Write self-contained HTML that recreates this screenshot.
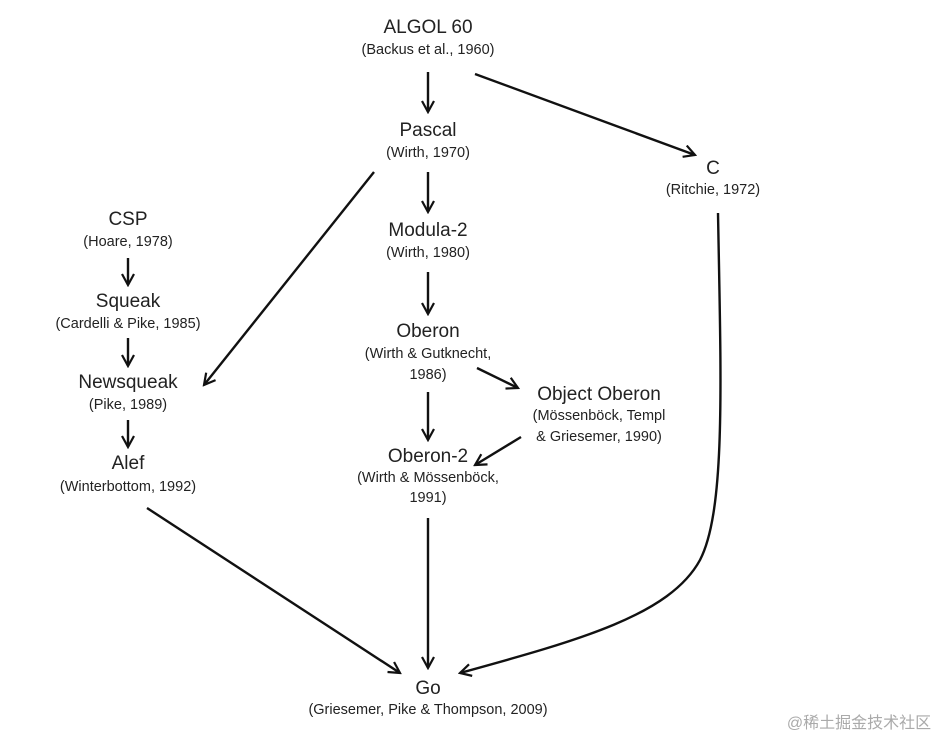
<!DOCTYPE html>
<html><head><meta charset="utf-8"><style>
html,body{margin:0;padding:0;background:#fff;}
svg{display:block;}
text{font-family:"Liberation Sans","Noto Sans CJK SC",sans-serif;fill:#222;text-anchor:middle;}
.t{font-size:19px;}
.s{font-size:14.5px;}
line,path{stroke:#111;stroke-width:2.4;fill:none;}
</style></head><body>
<svg width="946" height="741" viewBox="0 0 946 741">
<defs>
<marker id="a" viewBox="0 0 14 14" refX="12" refY="7" markerWidth="14" markerHeight="14" markerUnits="userSpaceOnUse" orient="auto">
<path d="M1,1 L12,7 L1,13" style="stroke:#111;stroke-width:2.2;fill:none"/>
</marker>
</defs>
<text class="t" x="428" y="33">ALGOL 60</text>
<text class="s" x="428" y="54">(Backus et al., 1960)</text>
<text class="t" x="428" y="136">Pascal</text>
<text class="s" x="428" y="157">(Wirth, 1970)</text>
<text class="t" x="713" y="174">C</text>
<text class="s" x="713" y="194">(Ritchie, 1972)</text>
<text class="t" x="128" y="225">CSP</text>
<text class="s" x="128" y="246">(Hoare, 1978)</text>
<text class="t" x="128" y="307">Squeak</text>
<text class="s" x="128" y="328">(Cardelli &amp; Pike, 1985)</text>
<text class="t" x="128" y="388">Newsqueak</text>
<text class="s" x="128" y="409">(Pike, 1989)</text>
<text class="t" x="128" y="469">Alef</text>
<text class="s" x="128" y="491">(Winterbottom, 1992)</text>
<text class="t" x="428" y="236">Modula-2</text>
<text class="s" x="428" y="257">(Wirth, 1980)</text>
<text class="t" x="428" y="337">Oberon</text>
<text class="s" x="428" y="358">(Wirth &amp; Gutknecht,</text>
<text class="s" x="428" y="379">1986)</text>
<text class="t" x="599" y="400">Object Oberon</text>
<text class="s" x="599" y="420">(Mössenböck, Templ</text>
<text class="s" x="599" y="441">&amp; Griesemer, 1990)</text>
<text class="t" x="428" y="462">Oberon-2</text>
<text class="s" x="428" y="482">(Wirth &amp; Mössenböck,</text>
<text class="s" x="428" y="502">1991)</text>
<text class="t" x="428" y="694">Go</text>
<text class="s" x="428" y="714">(Griesemer, Pike &amp; Thompson, 2009)</text>
<text x="859" y="728" style="font-size:16px;fill:#aaa">@稀土掘金技术社区</text>

<line x1="428" y1="72" x2="428" y2="112" marker-end="url(#a)"/>
<line x1="475" y1="74" x2="695" y2="155" marker-end="url(#a)"/>
<line x1="428" y1="172" x2="428" y2="212" marker-end="url(#a)"/>
<line x1="374" y1="172" x2="204" y2="385" marker-end="url(#a)"/>
<line x1="428" y1="272" x2="428" y2="314" marker-end="url(#a)"/>
<line x1="477" y1="368" x2="518" y2="388" marker-end="url(#a)"/>
<line x1="521" y1="437" x2="475" y2="465" marker-end="url(#a)"/>
<line x1="428" y1="392" x2="428" y2="440" marker-end="url(#a)"/>
<line x1="428" y1="518" x2="428" y2="668" marker-end="url(#a)"/>
<line x1="147" y1="508" x2="400" y2="673" marker-end="url(#a)"/>
<path d="M718,213 C721,380 726,510 700,560 C670,615 580,640 460,673" marker-end="url(#a)"/>
<line x1="128" y1="258" x2="128" y2="285" marker-end="url(#a)"/>
<line x1="128" y1="338" x2="128" y2="366" marker-end="url(#a)"/>
<line x1="128" y1="420" x2="128" y2="447" marker-end="url(#a)"/>
</svg>
</body></html>
